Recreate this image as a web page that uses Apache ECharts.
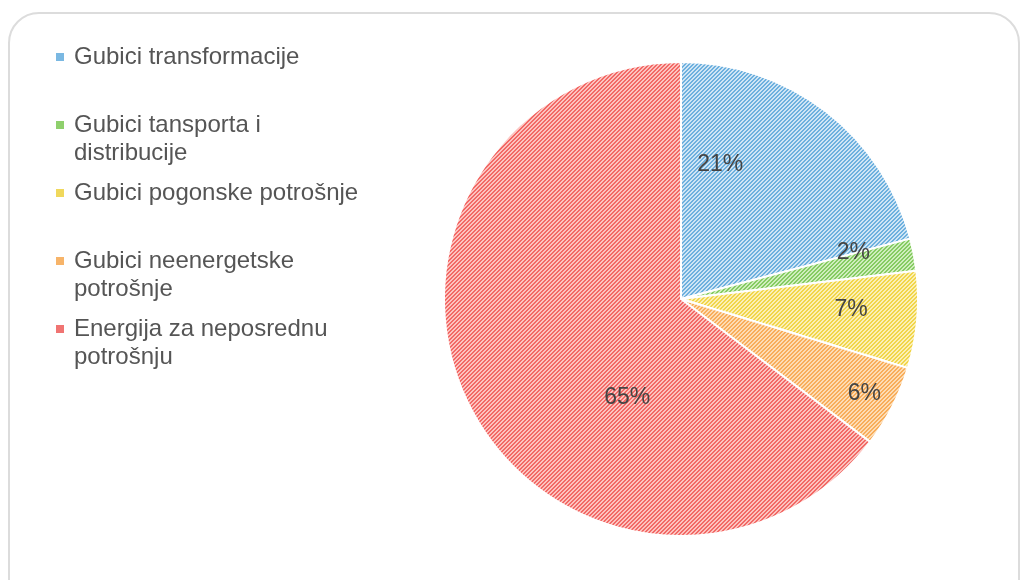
<!DOCTYPE html>
<html>
<head>
<meta charset="utf-8">
<script src="https://cdn.jsdelivr.net/npm/echarts@6/dist/echarts.min.js"></script>
<style>
html,body{margin:0;padding:0;background:#fff;}
#chart{width:1020px;height:580px;}
</style>
</head>
<body>
<div id="chart"></div>
<script>
// Data
const categories = [
  'Gubici transformacije',
  'Gubici tansporta i distribucije',
  'Gubici pogonske potrošnje',
  'Gubici neenergetske potrošnje',
  'Energija za neposrednu potrošnju'
];
const values = [20.9, 2.2, 6.6, 5.6, 64.7];
const legendLines = [
  ['Gubici transformacije'],
  ['Gubici tansporta i', 'distribucije'],
  ['Gubici pogonske potrošnje'],
  ['Gubici neenergetske', 'potrošnje'],
  ['Energija za neposrednu', 'potrošnju']
];

// Styles
const darkColors = ['#6db0de', '#86cb62', '#f1d54a', '#f8ad5a', '#f26966'];
const lightColors = ['#cfe5f5', '#cfeebd', '#fbf0b6', '#fddcb4', '#fcc3bf'];
const markerColors = ['#7ab8e2', '#8fd06d', '#f0d85c', '#f7b469', '#f07472'];
const labelOffsets = [[-35, -38], [53, -24], [49, 0], [75, 39], [55, 45]];

function makePattern(dark, light) {
  const c = document.createElement('canvas');
  c.width = 4; c.height = 4;
  const ctx = c.getContext('2d');
  ctx.fillStyle = light;
  ctx.fillRect(0, 0, 4, 4);
  ctx.fillStyle = dark;
  for (let y = 0; y < 4; y++) {
    for (let x = 0; x < 4; x++) {
      if ((x + y) % 4 < 2) ctx.fillRect(x, y, 1, 1);
    }
  }
  return { image: c, repeat: 'repeat' };
}

const pieData = categories.map((name, i) => ({
  name: name,
  value: values[i],
  itemStyle: { color: makePattern(darkColors[i], lightColors[i]) },
  label: { offset: labelOffsets[i] }
}));

const FONT = 'Liberation Sans, Arial, sans-serif';
const rich = {
  t: { fontSize: 24, lineHeight: 28, color: '#555', fontFamily: FONT },
  g: { width: 10, height: 8 },
  ind: { width: 18, height: 8 }
};
markerColors.forEach((c, i) => {
  rich['m' + i] = { width: 8, height: 8, backgroundColor: c };
});

const chart = echarts.init(document.getElementById('chart'), null, { renderer: 'canvas' });
chart.setOption({
  animation: false,
  backgroundColor: '#fff',
  graphic: [{
    type: 'rect',
    shape: { x: 9, y: 13, width: 1010, height: 600, r: 30 },
    style: { fill: 'none', stroke: '#dcdcdc', lineWidth: 2 },
    silent: true
  }],
  legend: {
    orient: 'vertical',
    left: 45,
    top: 40,
    itemGap: 16,
    itemWidth: 0,
    itemHeight: 0,
    icon: 'rect',
    data: categories,
    formatter: function (name) {
      const i = categories.indexOf(name);
      const lines = legendLines[i];
      const first = '{m' + i + '|}{g|}{t|' + lines[0] + '}';
      const second = lines[1] ? '{ind|}{t|' + lines[1] + '}' : '{t| }';
      return first + '\n' + second;
    },
    textStyle: { rich: rich },
    selectedMode: false
  },
  series: [{
    type: 'pie',
    center: [681, 299],
    radius: 237,
    startAngle: 90,
    clockwise: true,
    avoidLabelOverlap: false,
    itemStyle: { borderColor: '#fff', borderWidth: 2 },
    label: {
      position: 'inside',
      formatter: function (p) { return Math.round(p.value) + '%'; },
      fontSize: 23,
      color: '#444',
      fontFamily: FONT
    },
    labelLine: { show: false },
    emphasis: { disabled: true },
    data: pieData
  }]
});
</script>
</body>
</html>
